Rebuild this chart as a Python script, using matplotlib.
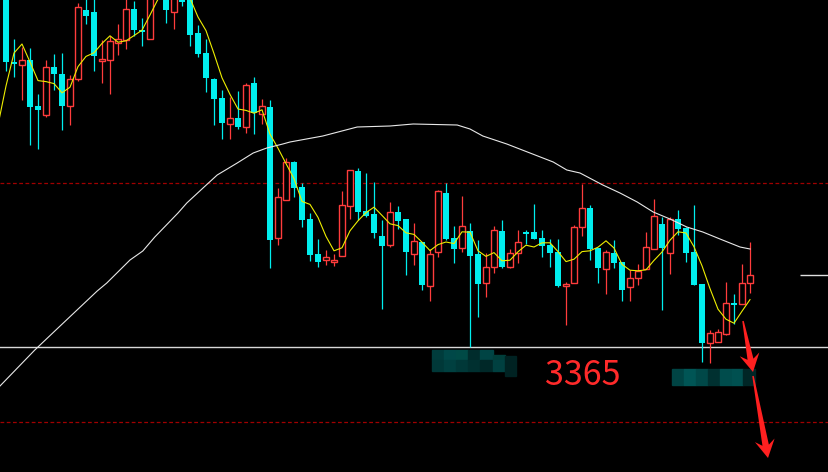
import numpy as np
import pandas as pd
import matplotlib
matplotlib.use("Agg")
import matplotlib.pyplot as plt
from matplotlib.patches import Polygon, Rectangle
from matplotlib.transforms import Affine2D

# ========================================================================
# candle data (price units), one candle per bar

open_ = [3717, 3650, 3647, 3652, 3606, 3597, 3645, 3638, 3606, 3633,
         3702, 3700, 3651, 3652, 3669, 3672, 3703, 3682, 3673, 3760,
         3720, 3700, 3724, 3718, 3679, 3659, 3633, 3614, 3588, 3594,
         3585, 3629, 3598, 3605, 3474, 3512, 3550, 3525, 3493, 3458,
         3452, 3450, 3456, 3506, 3541, 3501, 3498, 3476, 3467, 3500,
         3493, 3458, 3470, 3426, 3460, 3519, 3474, 3464, 3481, 3458,
         3429, 3445, 3481, 3445, 3459, 3480, 3480, 3474, 3467, 3460,
         3426, 3429, 3485, 3504, 3464, 3443, 3459, 3450, 3425, 3434,
         3443, 3463, 3488, 3459, 3493, 3484, 3460, 3428, 3369, 3370,
         3378, 3409, 3408, 3429]
high = [3724, 3673, 3665, 3664, 3618, 3652, 3658, 3659, 3637, 3709,
        3714, 3715, 3672, 3676, 3688, 3714, 3711, 3694, 3757, 3767,
        3727, 3732, 3730, 3722, 3687, 3673, 3634, 3622, 3615, 3621,
        3629, 3635, 3613, 3612, 3524, 3554, 3551, 3529, 3499, 3473,
        3462, 3458, 3521, 3542, 3544, 3539, 3530, 3492, 3510, 3506,
        3493, 3489, 3470, 3463, 3522, 3529, 3486, 3516, 3489, 3472,
        3459, 3486, 3492, 3463, 3482, 3482, 3508, 3482, 3473, 3473,
        3430, 3487, 3528, 3507, 3464, 3462, 3472, 3450, 3442, 3448,
        3480, 3513, 3495, 3495, 3502, 3485, 3507, 3428, 3382, 3383,
        3430, 3418, 3448, 3470]
low = [3641, 3635, 3612, 3567, 3563, 3595, 3622, 3582, 3587, 3631,
       3688, 3641, 3629, 3618, 3657, 3663, 3676, 3666, 3673, 3737,
       3689, 3683, 3706, 3666, 3655, 3620, 3587, 3573, 3573, 3583,
       3579, 3578, 3588, 3444, 3467, 3512, 3515, 3485, 3451, 3445,
       3447, 3446, 3456, 3493, 3492, 3495, 3474, 3403, 3465, 3483,
       3437, 3447, 3422, 3411, 3455, 3472, 3449, 3460, 3365, 3395,
       3415, 3439, 3444, 3444, 3449, 3468, 3473, 3455, 3445, 3425,
       3387, 3429, 3476, 3452, 3429, 3418, 3444, 3411, 3411, 3427,
       3443, 3463, 3402, 3438, 3477, 3450, 3427, 3350, 3349, 3370,
       3377, 3388, 3408, 3419]
close = [3650, 3648, 3652, 3605, 3602, 3645, 3638, 3606, 3633, 3705,
         3696, 3656, 3653, 3671, 3673, 3703, 3682, 3680, 3747, 3752,
         3702, 3728, 3710, 3677, 3658, 3634, 3613, 3589, 3594, 3585,
         3627, 3599, 3606, 3472, 3515, 3550, 3524, 3492, 3457, 3450,
         3455, 3452, 3507, 3542, 3500, 3496, 3479, 3466, 3500, 3491,
         3460, 3471, 3427, 3458, 3521, 3473, 3463, 3486, 3456, 3428,
         3445, 3482, 3445, 3459, 3470, 3478, 3473, 3466, 3459, 3426,
         3428, 3485, 3504, 3463, 3444, 3460, 3449, 3422, 3434, 3441,
         3465, 3496, 3464, 3493, 3483, 3459, 3427, 3369, 3379, 3380,
         3409, 3407, 3429, 3437]

# yellow MA5 before the window fills (bars -1..3)
ma5_head_x = [-1, 0, 1, 2, 3]
ma5_head = [3587, 3626, 3659, 3668, 3650]

# long white MA
ma_long_x = [-0.75, 3.6, 6.5, 11.4, 12.6, 15.5, 17.1, 18.6, 21.5, 22.6,
             24.9, 26.4, 28.9, 30.9, 32.6, 34.6, 35.5, 39.6, 43.9, 48.0,
             50.9, 56.4, 58.0, 59.6, 62.6, 65.5, 68.4, 70.1, 71.75, 74.6,
             76.75, 78.9, 80.9, 83.0, 85.1, 87.1, 89.25, 91.75, 93.0]
ma_long = [3326, 3362, 3384, 3421, 3429, 3452, 3461, 3475, 3499, 3509,
           3526, 3537, 3549, 3559, 3564, 3568, 3570, 3576, 3585, 3586,
           3588, 3587, 3583, 3576, 3568, 3559, 3550, 3542, 3539, 3527,
           3519, 3510, 3500, 3493, 3485, 3480, 3473, 3465, 3463]

support = 3365
dash_levels = [3529, 3290]
side_level = 3437

# ========================================================================

W, H = 829, 472
UP = "#ff3c3c"
DOWN = "#00eeee"


def arrow_poly(x0, y0, x1, y1, w0, w1, head_len, head_w, notch):
    p0 = np.array([x0, y0], float)
    tip = np.array([x1, y1], float)
    u = (tip - p0) / np.linalg.norm(tip - p0)
    n = np.array([-u[1], u[0]])
    base = tip - u * head_len
    neck = tip - u * (head_len - notch)
    return [p0 + n * w0 / 2, neck + n * w1 / 2, base + n * head_w, tip,
            base - n * head_w, neck - n * w1 / 2, p0 - n * w0 / 2]


def main():
    fig = plt.figure(figsize=(W / 100, H / 100), dpi=100, facecolor="black")
    ax = fig.add_axes([0, 0, 1, 1])
    ax.set_facecolor("black")
    ax.set_xlim(-0.75, (W - 6) / 8)
    ax.set_ylim(3712 - H, 3712)
    ax.set_axis_off()

    # pixel coords (top-left origin) for the hand-drawn annotations
    pix = Affine2D().scale(1 / W, -1 / H).translate(0, 1) + ax.transAxes

    # ========================================================================
    # level lines
    for lv in dash_levels:
        ax.axhline(lv, color="#a00000", lw=0.9, ls=(0, (3, 2)), zorder=1)
    ax.axhline(support, color="#d8d8d8", lw=1.0, zorder=1)
    ax.hlines(side_level, 99.25, 103, color="#e0e0e0", lw=1.0, zorder=1)

    # ========================================================================
    # candles
    x = np.arange(len(close))
    o = np.array(open_, float)
    c = np.array(close, float)
    hi = np.array(high, float)
    lo = np.array(low, float)
    up = c >= o
    top = np.maximum(o, c)
    bot = np.minimum(o, c)
    body = np.maximum(top - bot, 1.2)

    ax.vlines(x[~up], lo[~up], hi[~up], color=DOWN, lw=0.9, zorder=2)
    ax.bar(x[~up], body[~up], bottom=bot[~up], width=0.82, color=DOWN,
           linewidth=0, zorder=3)

    ax.vlines(x[up], top[up], hi[up], color=UP, lw=0.9, zorder=2)
    ax.vlines(x[up], lo[up], bot[up], color=UP, lw=0.9, zorder=2)
    ax.bar(x[up], body[up], bottom=bot[up], width=0.7, facecolor="black",
           edgecolor=UP, linewidth=1.0, zorder=3)

    # ========================================================================
    # moving averages
    ma5 = pd.Series(c).rolling(5).mean().values
    ma5_x = np.concatenate([ma5_head_x, x[4:]])
    ma5_y = np.concatenate([ma5_head, ma5[4:]])
    ax.plot(ma5_x, ma5_y, color="#eeee00", lw=0.8, zorder=4)
    ax.plot(ma_long_x, ma_long, color="#e8e8e8", lw=0.8, zorder=4)

    # ========================================================================
    # pixelated blur boxes
    box1_edges = [432, 444, 456, 468, 480, 493, 505]
    box1_top = ["#003c3c", "#004848", "#004a46", "#002c2c", "#004444", "#003e3a"]
    box1_bot = ["#003838", "#004040", "#003838", "#003030", "#002828", "#004040"]
    for k in range(len(box1_top)):
        x0, x1 = box1_edges[k], box1_edges[k + 1]
        y0 = 355 if k == 5 else 350
        ax.add_patch(Rectangle((x0, y0), x1 - x0, 360 - y0, color=box1_top[k],
                               transform=pix, zorder=5))
        ax.add_patch(Rectangle((x0, 360), x1 - x0, 11, color=box1_bot[k],
                               transform=pix, zorder=5))
    ax.add_patch(Rectangle((505, 356), 11, 20, color="#002222", transform=pix, zorder=5))

    box2_edges = [672, 684, 696, 708, 720, 732, 743, 755]
    box2_cols = ["#004444", "#005555", "#004848", "#003030", "#004c4c", "#005050", "#002626"]
    for k in range(len(box2_cols)):
        x0, x1 = box2_edges[k], box2_edges[k + 1]
        ax.add_patch(Rectangle((x0, 369), x1 - x0, 16, color=box2_cols[k],
                               transform=pix, zorder=5))

    # ========================================================================
    # label and arrows
    ax.text(583, 385, "3365", transform=pix, color="#ff2a2a", fontsize=24.5,
            family=["Noto Sans CJK SC", "DejaVu Sans"], ha="center",
            va="baseline", zorder=6)

    a1 = arrow_poly(743, 321, 753, 372, 1.5, 6.0, 18, 10, 5)
    a2 = arrow_poly(753, 376, 768, 458, 1.5, 6.5, 18, 10, 5)
    for pts in (a1, a2):
        ax.add_patch(Polygon(pts, closed=True, color="#ff2020", lw=0,
                             transform=pix, zorder=6))

    fig.savefig("out.png", dpi=100, facecolor="black")


if __name__ == "__main__":
    main()
